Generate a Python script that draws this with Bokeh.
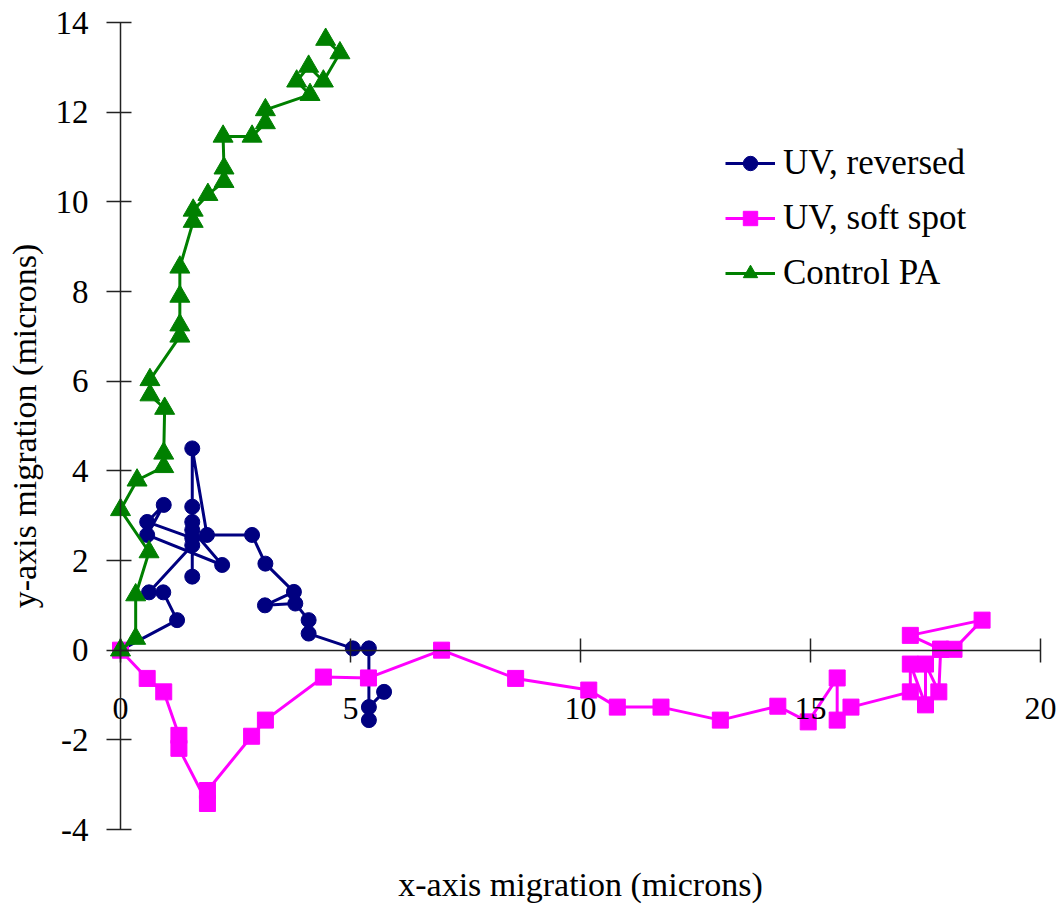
from bokeh.plotting import figure
from bokeh.models import LinearAxis, Range1d, FixedTicker, Legend, LegendItem
from bokeh.embed import file_html
from bokeh.resources import INLINE

# ---- data (microns) ----
x_ticks = [0, 5, 10, 15, 20]
y_ticks = [-4, -2, 0, 2, 4, 6, 8, 10, 12, 14]

uv_rev_x = [0, 1.23, 0.93, 0.62, 1.56, 1.56, 1.56, 0.58, 0.94, 0.58, 2.21, 1.56, 1.56, 1.56,
            1.56, 1.88, 2.86, 3.15, 3.77, 3.14, 3.80, 4.09, 4.09, 5.05, 5.40, 5.40, 5.40, 5.73]
uv_rev_y = [0, 0.67, 1.29, 1.29, 2.34, 1.64, 2.50, 2.86, 3.24, 2.57, 1.90, 2.68, 3.20, 2.86,
            4.50, 2.57, 2.57, 1.93, 1.30, 1.00, 1.04, 0.67, 0.37, 0.04, 0.04, -1.56, -1.27, -0.93]

uv_soft_x = [0, 0.58, 0.94, 1.27, 1.27, 1.89, 1.89, 2.85, 3.15, 4.41, 5.39, 6.98, 8.59, 10.18,
             10.80, 11.75, 13.04, 14.29, 14.95, 15.58, 15.58, 15.88, 17.17, 17.17, 17.50, 17.50,
             17.79, 17.83, 18.12, 18.73, 17.17, 17.83]
uv_soft_y = [0, -0.63, -0.93, -1.90, -2.19, -3.42, -3.13, -1.92, -1.56, -0.60, -0.62, 0.0, -0.63,
             -0.89, -1.27, -1.27, -1.56, -1.25, -1.60, -0.62, -1.56, -1.27, -0.93, -0.31, -1.22,
             -0.31, -0.93, 0.02, 0.02, 0.67, 0.33, 0.02]

control_x = [0, 0.33, 0.33, 0.62, 0, 0.36, 0.94, 0.94, 0.96, 0.64, 0.64, 1.29, 1.29, 1.29, 1.29,
             1.58, 1.58, 1.90, 2.25, 2.25, 2.23, 2.86, 3.15, 3.15, 4.12, 3.83, 4.09, 4.41, 4.77, 4.46]
control_y = [0, 0.26, 1.23, 2.19, 3.13, 3.79, 4.09, 4.39, 5.39, 5.69, 6.03, 7.00, 7.25, 7.89, 8.54,
             9.56, 9.81, 10.16, 10.45, 10.75, 11.46, 11.46, 11.76, 12.05, 12.39, 12.69, 13.02,
             12.69, 13.32, 13.62]

FONT = "Liberation Serif"

# frame covers the whole canvas; axes cross at the origin
W, H = 1060, 904
px_x = (1040 - 120) / 20.0
px_y = (829 - 22) / 18.0
x_lo, x_hi = -120 / px_x, 20 + (W - 1040) / px_x
y_hi, y_lo = 14 + 22 / px_y, -4 - (H - 829) / px_y

p = figure(width=W, height=H, output_backend="svg", toolbar_location=None,
           x_range=Range1d(x_lo, x_hi), y_range=Range1d(y_lo, y_hi),
           x_axis_location=None, y_axis_location=None,
           min_border_left=0, min_border_right=0, min_border_top=0, min_border_bottom=0)
p.grid.visible = False
p.outline_line_color = None
p.background_fill_color = "white"
p.border_fill_color = "white"

xax = LinearAxis(fixed_location=0, bounds=(0, 20), ticker=FixedTicker(ticks=x_ticks),
                 axis_label="x-axis migration (microns)")
xax.major_tick_out = 12
xax.major_tick_in = 12
xax.minor_tick_line_color = None
xax.axis_line_color = "#222222"
xax.axis_line_width = 1.5
xax.major_tick_line_color = "#222222"
xax.major_tick_line_width = 1.5
xax.major_label_standoff = 36
xax.major_label_text_font = FONT
xax.major_label_text_font_size = "32px"
xax.major_label_text_color = "black"
xax.axis_label_standoff = 143
xax.axis_label_text_font = FONT
xax.axis_label_text_font_size = "34px"
xax.axis_label_text_font_style = "normal"
xax.axis_label_text_color = "black"
p.add_layout(xax, "below")

yax = LinearAxis(fixed_location=0, bounds=(-4, 14), ticker=FixedTicker(ticks=y_ticks),
                 axis_label="y-axis migration (microns)")
yax.major_label_overrides = {t: str(t) for t in y_ticks}
yax.major_tick_out = 14
yax.major_tick_in = 11
yax.minor_tick_line_color = None
yax.axis_line_color = "#222222"
yax.axis_line_width = 1.5
yax.major_tick_line_color = "#222222"
yax.major_tick_line_width = 1.5
yax.major_label_standoff = 18
yax.major_label_text_font = FONT
yax.major_label_text_font_size = "33px"
yax.major_label_text_color = "black"
yax.axis_label_standoff = 10
yax.axis_label_text_font = FONT
yax.axis_label_text_font_size = "34px"
yax.axis_label_text_font_style = "normal"
yax.axis_label_text_color = "black"
p.add_layout(yax, "left")

NAVY, MAG, GREEN = "#000080", "#FF00FF", "#008000"

l1 = p.line(uv_rev_x, uv_rev_y, line_color=NAVY, line_width=3)
s1 = p.scatter(uv_rev_x, uv_rev_y, marker="circle", size=15, fill_color=NAVY, line_color=NAVY)
l2 = p.line(uv_soft_x, uv_soft_y, line_color=MAG, line_width=3)
s2 = p.scatter(uv_soft_x, uv_soft_y, marker="square", size=16, fill_color=MAG, line_color=MAG)
l3 = p.line(control_x, control_y, line_color=GREEN, line_width=3)
s3 = p.scatter(control_x, control_y, marker="triangle", size=20, fill_color=GREEN, line_color=GREEN)

legend = Legend(items=[LegendItem(label="UV, reversed", renderers=[l1, s1]),
                       LegendItem(label="UV, soft spot", renderers=[l2, s2]),
                       LegendItem(label="Control PA", renderers=[l3, s3])],
                location=(725, 611))
legend.border_line_color = None
legend.background_fill_alpha = 0
legend.padding = 0
legend.margin = 0
legend.spacing = 15
legend.glyph_width = 50
legend.glyph_height = 36
legend.label_height = 36
legend.label_standoff = 8
legend.label_text_font = FONT
legend.label_text_font_size = "35px"
legend.label_text_color = "black"
p.add_layout(legend, "center")

open("out.html", "w").write(file_html(p, INLINE))
